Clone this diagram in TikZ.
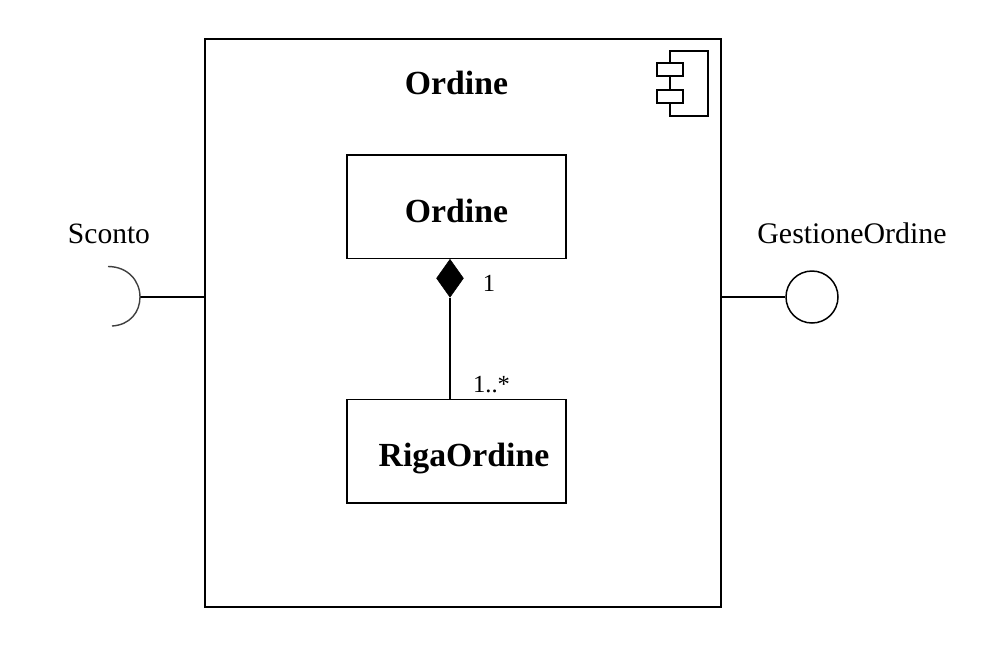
\documentclass[tikz,border=0pt]{standalone}
\usepackage{fontspec}
\setmainfont{Liberation Serif}
\usetikzlibrary{positioning,shapes.geometric}
\tikzset{
	boxclass/.style={draw,line width=.85pt,minimum width=4.38cm,minimum height=2.07cm,inner sep=0pt},
	iconpart/.style={draw,fill=white,line width=.95pt,minimum width=.52cm,minimum height=.26cm,inner sep=0pt},
	titlefont/.style={font=\fontsize{19.2}{22}\selectfont\bfseries},
	namefont/.style={font=\fontsize{16.8}{20}\selectfont},
	multfont/.style={font=\fontsize{14}{17}\selectfont},
	conn/.style={line width=.75pt}
}
\begin{document}
\begin{tikzpicture}
	\useasboundingbox (0,0) rectangle (20.02,-12.92);
	% component
	\node[draw,line width=.85pt,minimum width=10.32cm,minimum height=11.36cm,inner sep=0pt] (comp) at (9.26,-6.46) {};
	\node[titlefont] (title) at (9.13,-1.66) {Ordine};
	% icon
	\coordinate (icontop) at (13.4,-1.02);
	\coordinate (iconbot) at (13.4,-2.32);
	\node[iconpart] (iconA) at (13.4,-1.39) {};
	\node[iconpart] (iconB) at (13.4,-1.93) {};
	\draw[line width=.95pt] (iconA.north -| icontop) -- (icontop) -- ++(.76,0) -- ++(0,-1.3) -- (iconbot) -- (iconB.south -| iconbot);
	\draw[line width=.95pt] (iconA) -- (iconB);
	% classes
	\node[boxclass] (ordine) at (9.13,-4.13) {};
	\node[titlefont] (ordineT) at (9.13,-4.21) {Ordine};
	\node[boxclass] (riga) at (9.13,-9.02) {};
	\node[titlefont] (rigaT) at (9.28,-9.18) {RigaOrdine};
	\node[diamond,fill=black,draw=black,line width=.3pt,minimum width=.54cm,minimum height=.76cm,inner sep=0pt,anchor=north] (comp1) at (ordine.south -| 9,0) {};
	\draw[conn] (comp1.south) -- (riga.north -| comp1.south);
	\node[multfont] (mult1) at (9.78,-5.66) {1};
	\node[multfont] (mult2) at (9.83,-7.7) {1..*};
	% provided interface
	\node[draw,circle,line width=.85pt,minimum size=1.04cm,inner sep=0pt] (lolli) at (16.24,-5.94) {};
	\draw[conn] (comp.east |- lolli) -- (lolli.west);
	\node[namefont,font=\fontsize{17}{20}\selectfont] (gest) at (17.04,-4.66) {GestioneOrdine};
	% required interface
	\coordinate (sock) at (2.8,-5.94);
	\draw[conn] (comp.west |- sock) -- (sock);
	\draw[line width=.8pt,black!75] (2.16,-5.33) .. controls (2.56,-5.33) and (2.8,-5.62) .. (sock) .. controls (2.8,-6.24) and (2.6,-6.5) .. (2.24,-6.52);
	\node[namefont] (sconto) at (2.18,-4.68) {Sconto};
\end{tikzpicture}
\end{document}
